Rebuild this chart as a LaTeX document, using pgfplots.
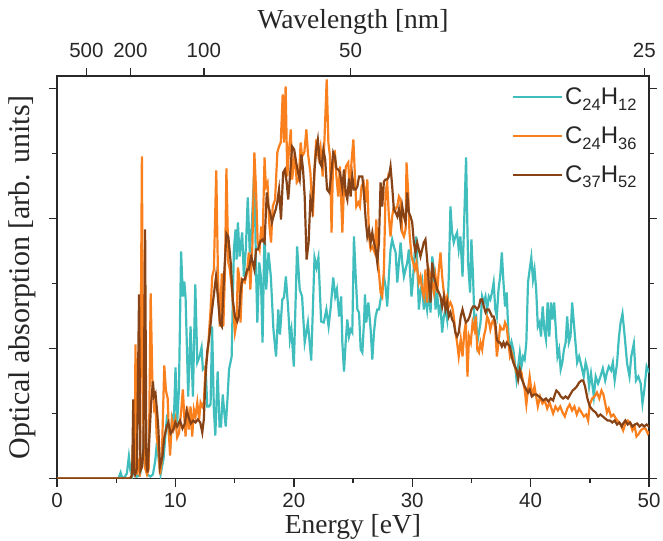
\documentclass[border=0pt]{standalone}
\usepackage{fontspec}
\setmainfont{Liberation Serif}
\newfontfamily\arial{Liberation Sans}
\usepackage{pgfplots}
\pgfplotsset{compat=1.18}
\definecolor{cyanline}{RGB}{64,190,190}
\definecolor{orangeline}{RGB}{250,128,30}
\definecolor{brownline}{RGB}{135,67,22}
\definecolor{axisgray}{RGB}{40,40,40}
\newcommand\sub[1]{\raisebox{-5.5bp}{\fontsize{16.5bp}{17bp}\selectfont #1}}

% absorption spectra, y in arbitrary units
\pgfplotstableread{
E y
0 0
5.2 0
5.37 6
5.5 1
5.7 1
5.9 5
6.07 22
6.2 8
6.35 2
6.55 10
6.77 2
7.0 3
7.2 16
7.36 44
7.48 28
7.62 4
7.9 2
8.1 4
8.3 18
8.44 36
8.6 18
8.75 4
9.0 20
9.2 50
9.31 64
9.45 44
9.59 36
9.73 62
9.87 58
10.01 111
10.15 56
10.30 89
10.48 227
10.63 182
10.75 197
10.86 181
11.0 119
11.08 82
11.28 152
11.48 82
11.68 194
11.85 116
12.04 122
12.21 131
12.32 109
12.55 112
12.69 72
12.83 72
12.97 74
13.1 152
13.25 69
13.37 43
13.57 107
13.73 52
13.85 52
14.0 84
14.1 70
14.25 52
14.4 80
14.53 109
14.75 122
14.94 229
15.08 249
15.17 219
15.28 256
15.42 222
15.64 246
15.78 202
15.95 230
16.11 281
16.28 226
16.45 252
16.67 312
16.81 209
16.92 156
17.08 216
17.22 202
17.36 136
17.53 249
17.67 189
17.86 226
18.06 202
18.28 149
18.5 122
18.69 169
18.83 144
19.03 179
19.17 181
19.33 202
19.53 169
19.67 139
19.8 149
20.0 112
20.28 232
20.5 189
20.7 182
20.92 136
21.19 156
21.47 118
21.75 221
21.92 211
22.08 221
22.31 157
22.53 156
22.75 169
22.94 152
23.1 169
23.33 201
23.5 182
23.64 189
23.83 162
24.0 182
24.1 136
24.24 107
24.38 136
24.52 159
24.66 142
24.8 149
24.94 146
25.08 242
25.23 202
25.37 169
25.51 166
25.65 129
25.79 126
25.94 159
26.01 184
26.12 156
26.3 176
26.49 149
26.63 119
26.77 146
26.91 162
27.05 169
27.2 169
27.33 179
27.47 189
27.61 202
27.75 192
27.89 172
28.03 202
28.17 229
28.31 239
28.45 232
28.6 226
28.74 196
28.88 216
29.02 236
29.16 216
29.3 202
29.44 209
29.58 216
29.72 229
29.82 206
29.94 182
30.05 196
30.19 222
30.33 242
30.47 202
30.56 169
30.7 186
30.84 196
30.98 169
31.12 182
31.26 169
31.4 189
31.55 166
31.69 222
31.83 209
31.97 169
32.1 186
32.25 166
32.39 172
32.53 146
32.67 162
32.81 169
32.95 159
33.09 202
33.23 272
33.37 246
33.51 236
33.65 242
33.79 246
33.93 229
34.07 242
34.25 202
34.42 269
34.55 321
34.72 216
34.89 186
35.0 239
35.14 202
35.25 159
35.4 162
35.5 136
35.64 146
35.77 156
35.91 182
36.05 176
36.19 182
36.33 169
36.47 182
36.6 179
36.74 186
36.88 196
37.02 169
37.15 162
37.29 189
37.43 202
37.57 226
37.71 196
37.84 172
37.98 186
38.12 146
38.26 126
38.4 136
38.54 129
38.67 116
38.81 99
38.95 112
39.09 126
39.23 112
39.37 122
39.5 119
39.64 136
39.78 196
39.92 209
40.06 221
40.2 199
40.33 209
40.47 189
40.61 152
40.75 156
40.88 142
41.02 172
41.16 149
41.3 139
41.44 176
41.58 142
41.72 176
41.85 159
41.99 176
42.13 149
42.27 122
42.41 129
42.54 109
42.68 116
42.82 129
42.96 136
43.09 162
43.23 136
43.37 142
43.51 176
43.65 156
43.79 136
43.93 116
44.1 122
44.3 112
44.49 102
44.65 116
44.8 109
44.94 92
45.1 105
45.34 82
45.5 102
45.7 95
45.9 102
46.1 110
46.3 98
46.45 106
46.61 112
46.8 108
46.95 116
47.1 98
47.3 115
47.45 140
47.59 155
47.76 165
47.95 142
48.15 115
48.35 102
48.5 122
48.72 135
48.9 98
49.1 102
49.3 95
49.45 75
49.6 88
49.8 112
50.0 106
}\cOne

\pgfplotstableread{
E y
0 0
6.1 0
6.3 2
6.45 40
6.55 10
6.63 134
6.75 4
6.9 20
7.0 2
7.17 322
7.3 40
7.45 10
7.6 4
7.75 10
7.91 185
8.05 100
8.21 69
8.32 72
8.42 42
8.55 30
8.7 4
8.85 18
9.06 113
9.2 88
9.35 80
9.45 45
9.55 23
9.7 59
9.85 50
10.0 59
10.15 41
10.3 45
10.5 69
10.63 89
10.75 62
10.86 42
11.0 72
11.14 49
11.28 72
11.42 42
11.56 69
11.7 62
11.85 76
12.0 59
12.13 76
12.27 72
12.4 76
12.55 112
12.75 129
12.97 169
13.11 202
13.25 209
13.45 308
13.6 200
13.75 152
13.92 205
14.05 152
14.19 209
14.31 310
14.47 216
14.6 209
14.8 186
15.03 146
15.17 156
15.28 211
15.42 199
15.5 156
15.64 199
15.86 196
16.05 206
16.2 226
16.33 189
16.5 232
16.67 326
16.81 289
16.95 236
17.11 229
17.25 252
17.36 236
17.53 321
17.64 292
17.78 296
17.92 256
18.08 236
18.22 272
18.42 279
18.61 326
18.75 332
18.9 336
19.06 384
19.17 336
19.31 392
19.45 302
19.58 326
19.75 349
19.86 299
20.08 326
20.25 296
20.42 299
20.58 336
20.7 322
20.89 326
21.06 349
21.19 326
21.4 306
21.61 262
21.75 309
21.89 339
22.08 322
22.25 332
22.44 302
22.58 336
22.78 399
22.92 336
23.06 322
23.19 246
23.33 326
23.47 327
23.6 302
23.75 282
23.9 312
24.1 246
24.24 292
24.4 312
24.6 316
24.73 286
24.87 316
25.03 339
25.14 309
25.28 272
25.45 276
25.58 272
25.72 292
25.9 296
26.07 276
26.21 299
26.35 242
26.49 229
26.63 232
26.83 226
26.97 259
27.12 216
27.33 186
27.47 182
27.61 209
27.75 286
27.89 296
28.03 262
28.17 242
28.31 262
28.45 272
28.6 269
28.74 272
28.88 282
29.02 279
29.16 246
29.3 242
29.44 249
29.52 316
29.66 286
29.77 246
29.94 222
30.08 216
30.22 209
30.36 216
30.56 196
30.7 202
30.84 189
30.98 182
31.12 209
31.26 176
31.4 209
31.55 202
31.69 196
31.83 186
31.97 202
32.11 186
32.25 209
32.39 226
32.53 202
32.67 186
32.81 176
32.95 182
33.09 172
33.23 176
33.37 172
33.51 162
33.65 146
33.79 136
33.93 122
34.1 139
34.25 122
34.4 146
34.53 156
34.67 102
34.8 142
34.95 136
35.1 156
35.25 149
35.36 162
35.5 129
35.64 126
35.77 136
35.91 129
36.05 142
36.19 149
36.33 162
36.47 158
36.6 149
36.74 156
36.88 159
37.02 149
37.15 122
37.29 136
37.43 152
37.57 149
37.71 149
37.84 156
37.98 152
38.12 136
38.26 122
38.4 126
38.54 119
38.67 112
38.81 106
38.95 102
39.09 109
39.23 106
39.37 96
39.5 89
39.64 74
39.78 89
39.92 102
40.06 89
40.2 85
40.33 92
40.47 82
40.61 72
40.8 82
41.0 75
41.2 78
41.4 70
41.6 76
41.9 65
42.1 72
42.3 68
42.5 72
42.7 66
42.89 62
43.1 70
43.3 74
43.5 68
43.7 72
43.9 64
44.1 70
44.3 66
44.5 62
44.7 64
44.86 58
45.0 74
45.2 80
45.4 82
45.6 86
45.8 80
45.99 88
46.15 84
46.3 75
46.45 66
46.6 70
46.8 62
47.0 64
47.2 60
47.4 57
47.6 54
47.82 48
48.0 55
48.2 58
48.4 56
48.6 48
48.8 52
48.94 42
49.1 44
49.3 48
49.5 50
49.7 50
49.9 45
50.0 47
}\cTwo

\pgfplotstableread{
E y
0 0
6.2 0
6.35 4
6.44 79
6.5 10
6.6 4
6.75 10
6.93 184
7.05 8
7.2 12
7.3 30
7.44 249
7.55 15
7.65 6
7.8 40
7.95 75
8.1 97
8.2 82
8.32 85
8.45 68
8.56 50
8.7 12
8.9 22
9.05 40
9.26 52
9.4 56
9.6 45
9.83 49
10.0 56
10.15 52
10.39 58
10.6 50
10.8 55
10.95 68
11.15 60
11.3 55
11.52 58
11.7 56
11.9 59
12.1 56
12.27 46
12.4 59
12.55 102
12.7 128
12.85 140
13.06 165
13.25 184
13.43 202
13.6 180
13.77 155
13.92 152
14.1 200
14.31 245
14.47 242
14.67 216
14.85 178
15.03 162
15.22 157
15.36 162
15.5 186
15.64 199
15.86 199
16.05 209
16.2 209
16.4 222
16.53 216
16.67 209
16.81 229
16.97 229
17.17 237
17.36 239
17.53 236
17.72 286
17.86 272
18.0 266
18.15 256
18.28 262
18.47 269
18.6 276
18.75 289
18.92 259
19.1 306
19.25 309
19.4 296
19.53 279
19.7 306
19.86 332
20.03 329
20.2 316
20.36 306
20.5 299
20.64 324
20.78 309
20.92 282
21.08 219
21.25 236
21.4 279
21.56 269
21.75 309
21.89 329
22.03 339
22.2 316
22.36 312
22.5 329
22.65 319
22.81 289
23.0 286
23.14 302
23.33 326
23.47 322
23.6 310
23.75 309
23.9 306
24.1 290
24.24 309
24.38 286
24.52 279
24.66 300
24.8 282
24.94 302
25.08 289
25.23 289
25.37 292
25.51 302
25.65 302
25.79 302
25.94 282
26.07 259
26.21 242
26.35 249
26.49 236
26.63 246
26.77 236
26.91 229
27.05 216
27.19 236
27.33 296
27.47 272
27.61 297
27.75 299
27.89 299
28.03 302
28.17 312
28.31 292
28.45 269
28.6 266
28.74 262
28.88 269
29.02 256
29.16 272
29.3 262
29.44 256
29.58 286
29.72 266
29.86 262
30.0 256
30.14 236
30.28 226
30.42 236
30.56 229
30.7 222
30.84 229
30.98 236
31.12 239
31.26 219
31.4 196
31.55 176
31.69 216
31.83 202
31.97 196
32.11 189
32.25 186
32.39 182
32.53 172
32.67 182
32.81 169
32.95 176
33.09 162
33.23 166
33.37 159
33.51 156
33.65 146
33.79 142
33.93 146
34.1 162
34.25 169
34.4 162
34.53 156
34.7 158
34.85 162
35.0 169
35.14 172
35.3 172
35.5 169
35.64 172
35.77 179
35.91 179
36.05 172
36.2 166
36.33 169
36.47 169
36.6 166
36.74 162
36.88 162
37.02 156
37.15 139
37.29 136
37.43 136
37.57 132
37.71 136
37.84 132
37.98 136
38.12 134
38.26 132
38.4 122
38.54 116
38.67 112
38.81 109
38.95 99
39.09 109
39.23 100
39.37 96
39.5 92
39.64 89
39.78 86
39.92 89
40.1 82
40.3 84
40.5 84
40.7 82
40.9 80
41.06 78
41.3 80
41.5 77
41.7 80
41.9 78
42.05 84
42.18 88
42.35 86
42.55 82
42.75 80
42.95 82
43.15 80
43.35 84
43.55 88
43.75 90
43.9 92
44.1 96
44.3 98
44.44 98
44.6 92
44.8 80
45.0 72
45.28 68
45.5 66
45.7 62
45.9 64
46.1 62
46.3 60
46.5 58
46.7 58
46.9 56
47.1 58
47.3 54
47.5 56
47.7 52
47.82 55
48.0 58
48.2 54
48.4 56
48.6 52
48.8 54
49.0 55
49.2 52
49.4 54
49.6 52
49.8 54
50.0 52
}\cThree

\pgfplotsset{
  specaxis/.style={
    scale only axis, width=592bp, height=402.5bp,
    xmin=0, xmax=50, ymin=0, ymax=402.5,
    axis line style={axisgray, line width=1.4bp},
    every tick/.style={axisgray, line width=1.4bp},
    tick align=outside,
    major tick length=8bp, minor tick length=4.5bp,
    tick label style={font=\arial\fontsize{20.5bp}{24bp}\selectfont, text=black!85},
    label style={font=\fontsize{27.5bp}{32bp}\selectfont, text=black!85},
    /pgf/number format/assume math mode=true,
  },
}

\begin{document}
\begin{tikzpicture}
\useasboundingbox (-57bp,-62.5bp) rectangle (606bp,478.5bp);
\begin{axis}[specaxis,
  xtick={0,10,...,50}, minor xtick={5,15,...,45}, xtick pos=bottom,
  xticklabel style={yshift=-3bp},
  ytick={0,130,260,390}, minor ytick={65,195,325}, yticklabels={},
  ytick pos=both,
  xlabel={Energy [eV]},
  ylabel={Optical absorption [arb. units]},
  xlabel style={at={(axis description cs:0.5,-0.12)}, anchor=center},
  ylabel style={at={(axis description cs:-0.059,0.5)}, anchor=center,
    font=\fontsize{30bp}{34bp}\selectfont},
  legend cell align=left,
  legend style={draw=none, fill=none, at={(rel axis cs:0.763,0.98)},
    anchor=north west, font=\arial\fontsize{24bp}{26bp}\selectfont,
    row sep=16.5bp, text=black!85},
  legend image code/.code={\draw[#1, line width=2.2bp] (0bp,0bp) -- (45bp,0bp);
    \path (45bp,0bp) -- (49bp,0bp);},
]
\addplot[cyanline, line width=2.2bp] table[x=E, y=y] {\cOne};
\addlegendentry{C\sub{24}H\sub{12}}
\addplot[orangeline, line width=2.2bp] table[x=E, y=y] {\cTwo};
\addlegendentry{C\sub{24}H\sub{36}}
\addplot[brownline, line width=2.2bp] table[x=E, y=y] {\cThree};
\addlegendentry{C\sub{37}H\sub{52}}
\end{axis}
\begin{axis}[specaxis,
  axis x line*=top, axis y line=none,
  xtick={2.48,6.2,12.4,24.8,49.6}, xticklabels={500,200,100,50,25},
  xticklabel style={yshift=7bp},
  minor xtick={},
  xlabel={Wavelength [nm]},
  xlabel style={at={(axis description cs:0.5,1.134)}, anchor=center},
]
\end{axis}
\end{tikzpicture}
\end{document}
